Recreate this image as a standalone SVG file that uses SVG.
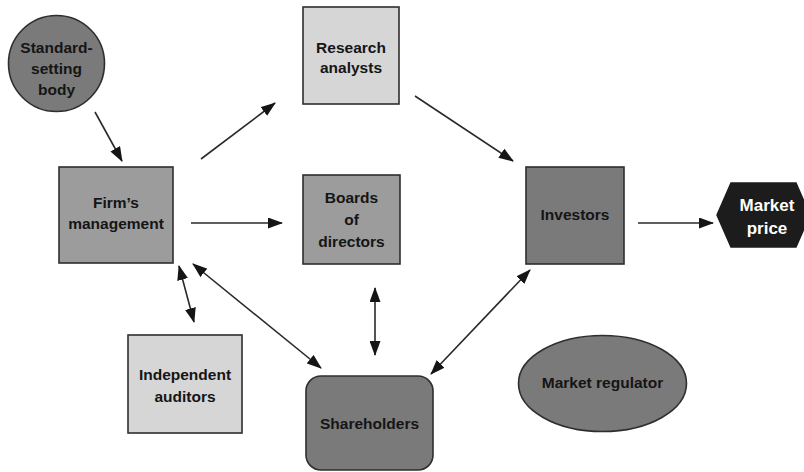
<svg xmlns="http://www.w3.org/2000/svg" width="804" height="472" viewBox="0 0 804 472">
  <style>
    .box { stroke: #2e2e2e; stroke-width: 1.6; }
    .light { fill: #d6d6d6; }
    .mid { fill: #9c9c9c; }
    .dark { fill: #7a7a7a; }
    .label { font-family: "Liberation Sans", Arial, sans-serif; font-size: 15.5px; font-weight: bold; fill: #151515; text-anchor: middle; }
    .inv { fill: #ffffff; font-size: 17px; }
    .conn line { stroke: #2a2a2a; stroke-width: 1.6; }
  </style>
  <defs>
    <marker id="head" viewBox="0 0 15 11" refX="14" refY="5.5" markerWidth="15" markerHeight="11" markerUnits="userSpaceOnUse" orient="auto-start-reverse">
      <path d="M0,0 L15,5.5 L0,11 Z" fill="#151515"/>
    </marker>
  </defs>

  <!-- connectors -->
  <g id="connectors" class="conn">
    <line x1="95" y1="112" x2="122" y2="161" marker-end="url(#head)"/>
    <line x1="201" y1="159" x2="275" y2="103" marker-end="url(#head)"/>
    <line x1="191" y1="223" x2="282" y2="223" marker-end="url(#head)"/>
    <line x1="415" y1="96" x2="513" y2="161" marker-end="url(#head)"/>
    <line x1="638" y1="223" x2="713" y2="223" marker-end="url(#head)"/>
    <line x1="179" y1="266" x2="194" y2="322" marker-start="url(#head)" marker-end="url(#head)"/>
    <line x1="193" y1="264" x2="321" y2="368" marker-start="url(#head)" marker-end="url(#head)"/>
    <line x1="375" y1="288" x2="375" y2="355" marker-start="url(#head)" marker-end="url(#head)"/>
    <line x1="530" y1="270" x2="431" y2="374" marker-start="url(#head)" marker-end="url(#head)"/>
  </g>

  <g id="standard-setting-body">
    <circle class="box dark" cx="56.5" cy="63.5" r="48"/>
    <text class="label" x="56.5" y="53">Standard-</text>
    <text class="label" x="56.5" y="74">setting</text>
    <text class="label" x="56.5" y="95">body</text>
  </g>

  <g id="firms-management">
    <rect class="box mid" x="59" y="167" width="114" height="96"/>
    <text class="label" x="116" y="208">Firm’s</text>
    <text class="label" x="116" y="229">management</text>
  </g>

  <g id="research-analysts">
    <rect class="box light" x="303" y="7" width="96" height="97"/>
    <text class="label" x="351" y="53">Research</text>
    <text class="label" x="351" y="73">analysts</text>
  </g>

  <g id="boards-of-directors">
    <rect class="box mid" x="303" y="175" width="97" height="89"/>
    <text class="label" x="351.5" y="203">Boards</text>
    <text class="label" x="351.5" y="225">of</text>
    <text class="label" x="351.5" y="247">directors</text>
  </g>

  <g id="investors">
    <rect class="box dark" x="526" y="167" width="98" height="97"/>
    <text class="label" x="575" y="220">Investors</text>
  </g>

  <g id="market-price">
    <polygon points="717,215 731,183 796,183 810,215 796,247 731,247" fill="#1c1c1c" stroke="#1c1c1c" stroke-width="1.5"/>
    <text class="label inv" x="767" y="211">Market</text>
    <text class="label inv" x="767" y="234">price</text>
  </g>

  <g id="independent-auditors">
    <rect class="box light" x="128" y="335" width="114" height="98"/>
    <text class="label" x="185" y="380">Independent</text>
    <text class="label" x="185" y="402">auditors</text>
  </g>

  <g id="shareholders">
    <rect class="box dark" x="306" y="376" width="127" height="94" rx="15" ry="15"/>
    <text class="label" x="369.5" y="429">Shareholders</text>
  </g>

  <g id="market-regulator">
    <ellipse class="box dark" cx="602.5" cy="383.5" rx="84" ry="48"/>
    <text class="label" x="602.5" y="388">Market regulator</text>
  </g>
</svg>
